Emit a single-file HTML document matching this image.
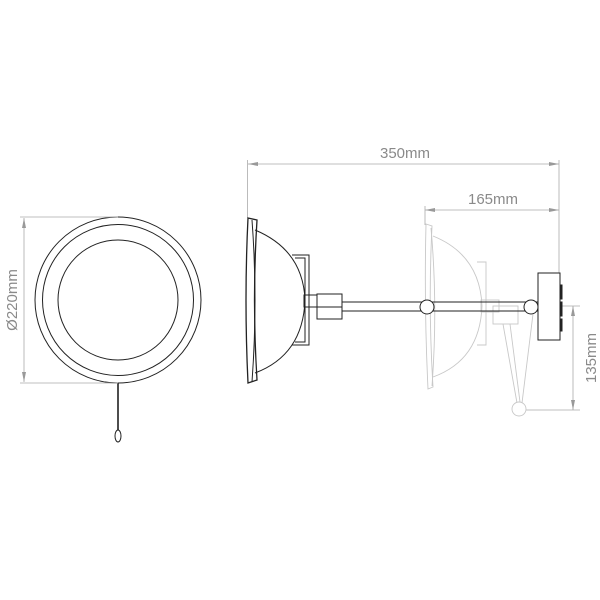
<!DOCTYPE html>
<html><head><meta charset="utf-8"><style>
html,body{margin:0;padding:0;background:#fff;}
svg{display:block;}
text{font-family:"Liberation Sans",sans-serif;fill:#8a8a8a;}
</style></head><body>
<svg width="600" height="600" viewBox="0 0 600 600" xmlns="http://www.w3.org/2000/svg">
<defs>
<marker id="a" viewBox="0 0 10 4" refX="10" refY="2" markerWidth="10" markerHeight="4" orient="auto-start-reverse" markerUnits="userSpaceOnUse"><path d="M0,0 L10,2 L0,4z" fill="#999"/></marker>
</defs>
<g fill="none" stroke="#222" stroke-width="1">
<circle cx="118" cy="300" r="83"/>
<circle cx="118" cy="300" r="75.5"/>
<circle cx="118" cy="300" r="60"/>
<line x1="118" y1="383" x2="118" y2="430" stroke-width="1.6"/>
<ellipse cx="118" cy="436" rx="3" ry="6"/>
</g>
<g stroke="#aaa" stroke-width="0.8" fill="none">
<line x1="20" y1="217" x2="118" y2="217"/>
<line x1="20" y1="383" x2="118" y2="383"/>
<line x1="24" y1="218" x2="24" y2="382" marker-start="url(#a)" marker-end="url(#a)"/>
</g>
<text x="0" y="0" font-size="15" text-anchor="middle" transform="translate(17,300) rotate(-90)">Ø220mm</text>

<g stroke="#aaa" stroke-width="0.8" fill="none">
<line x1="247.5" y1="160" x2="247.5" y2="218"/>
<line x1="559" y1="160" x2="559" y2="273"/>
<line x1="248" y1="164" x2="559" y2="164" marker-start="url(#a)" marker-end="url(#a)"/>
<line x1="425" y1="206" x2="425" y2="225"/>
<line x1="425" y1="210" x2="559" y2="210" marker-start="url(#a)" marker-end="url(#a)"/>
<line x1="533" y1="306" x2="580" y2="306"/>
<line x1="519" y1="410" x2="580" y2="410"/>
<line x1="573" y1="306" x2="573" y2="410" marker-start="url(#a)" marker-end="url(#a)"/>
</g>
<text x="405" y="158" font-size="15" text-anchor="middle">350mm</text>
<text x="493" y="204" font-size="15" text-anchor="middle">165mm</text>
<text x="0" y="0" font-size="15" text-anchor="middle" transform="translate(596,358) rotate(-90)">135mm</text>

<g fill="none" stroke="#c8c8c8" stroke-width="0.9">
<path d="M426,224 L432,226 Q428,306 433,387 L428,389 Q424,306 426,224z"/>
<path d="M431,228 Q438,306 432,386"/>
<path d="M433,236 Q480,255 482,306 Q480,360 433,377"/>
<path d="M477,262 L486,262 L486,345 L477,345"/>
<rect x="481" y="300" width="18" height="12"/>
<rect x="493" y="306" width="25" height="18"/>
<path d="M503,324 L517,403 M533,314 L522,403 M510,324 L520,402"/>
<circle cx="519" cy="409" r="7" fill="#fff"/>
</g>

<g fill="none" stroke="#222" stroke-width="1">
<path d="M248,218 L257,220 Q252,300 257,380 L248,383 Q244,300 248,218z" stroke-width="1.3"/>
<path d="M252,220 Q258,300 252,382"/>
<path d="M255,230 Q303,250 305,300 Q303,355 255,373"/>
<path d="M292,255 L309,255 L309,345 L292,345"/>
<path d="M295,258 L305,258 L305,342 L295,342"/>
<rect x="304" y="295" width="13" height="12"/>
<rect x="317" y="294" width="25" height="25"/>
<line x1="317" y1="307" x2="342" y2="307"/>
<line x1="342" y1="302" x2="538" y2="302"/>
<line x1="342" y1="311" x2="538" y2="311"/>
<circle cx="427" cy="307" r="7" fill="#fff"/>
<circle cx="531" cy="307" r="7" fill="#fff"/>
<rect x="538" y="273" width="22" height="67" fill="#fff"/>
<rect x="560" y="285" width="2" height="14" fill="#222"/>
<rect x="560" y="302" width="2" height="14" fill="#222"/>
<rect x="560" y="319" width="2" height="12" fill="#222"/>
</g>
</svg>
</body></html>
